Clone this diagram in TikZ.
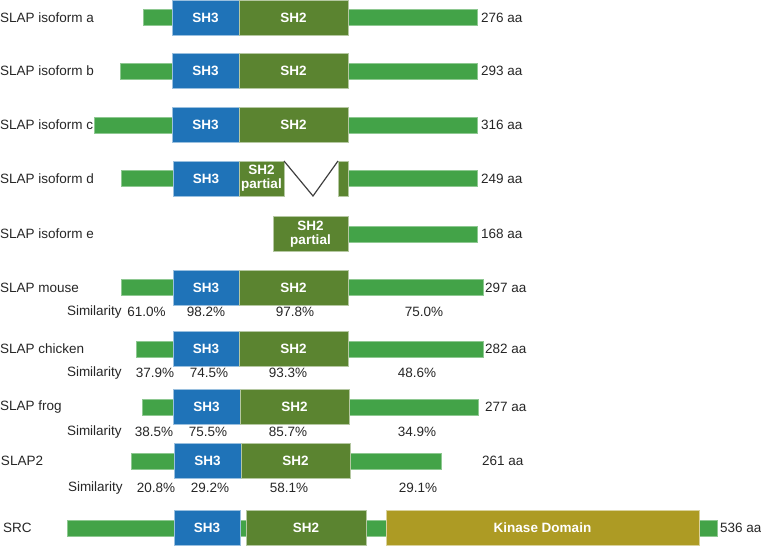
\documentclass[tikz,border=0pt]{standalone}
\usepackage{fontspec}
\setmainfont{Liberation Sans}
\definecolor{barg}{RGB}{67,163,72}
\definecolor{sh3c}{RGB}{31,115,184}
\definecolor{sh2c}{RGB}{91,132,48}
\definecolor{kinc}{RGB}{173,155,36}
\begin{document}
\begin{tikzpicture}[x=1pt,y=-1pt,
  every node/.style={inner sep=0pt, outer sep=0pt},
  lbl/.style={anchor=west, font=\fontsize{13.5}{15}\selectfont, text=black!85},
  num/.style={anchor=center, font=\fontsize{13.5}{15}\selectfont, text=black!85},
  bar/.style={rectangle, fill=barg, draw=barg!60!white, line width=0.5pt, minimum height=16pt},
  dom/.style={rectangle, line width=0.6pt, minimum height=35pt, text=white, font=\bfseries\fontsize{13.5}{15}\selectfont, align=center},
  shthree/.style={dom, fill=sh3c, draw=sh3c!45!white},
  shtwo/.style={dom, fill=sh2c, draw=sh2c!45!white},
  kin/.style={dom, fill=kinc, draw=kinc!45!white},
  vline/.style={draw=black!75, line width=1.2pt}
]
\useasboundingbox (0,0) rectangle (761,546);

% isoform a
\node[lbl] (la) at (0,17.5) {SLAP isoform a};
\node[bar, minimum width=334pt] (ba) at (310,17.5) {};
\node[shthree, minimum width=67pt] (a3) at (205.5,17.5) {SH3};
\node[shtwo, minimum width=109pt] (a2) at (293.5,17.5) {SH2};
\node[lbl] (aa) at (481,17.5) {276 aa};

% isoform b
\node[lbl] (lb) at (0,71) {SLAP isoform b};
\node[bar, minimum width=357pt] (bb) at (298.5,71) {};
\node[shthree, minimum width=67pt] (b3) at (205.5,71) {SH3};
\node[shtwo, minimum width=109pt] (b2) at (293.5,71) {SH2};
\node[lbl] (ab) at (481,71) {293 aa};

% isoform c
\node[lbl] (lc) at (0,125) {SLAP isoform c};
\node[bar, minimum width=383pt] (bc) at (285.5,125) {};
\node[shthree, minimum width=67pt] (c3) at (205.5,125) {SH3};
\node[shtwo, minimum width=109pt] (c2) at (293.5,125) {SH2};
\node[lbl] (ac) at (481,125) {316 aa};

% isoform d
\node[lbl] (ld) at (0,178.5) {SLAP isoform d};
\node[bar, minimum width=52pt] (bd1) at (147,178.5) {};
\node[bar, minimum width=129pt] (bd2) at (412.5,178.5) {};
\node[shthree, minimum width=66pt] (d3) at (206,178.5) {SH3};
\node[shtwo, minimum width=45pt] (d2) at (261.5,178.5) {SH2\\[-1pt]partial};
\node[shtwo, minimum width=10pt] (d4) at (343,178.5) {};
\coordinate (dv) at (313,196);
\draw[vline] (d2.north east) -- (dv) -- (d4.north west);
\node[lbl] (ad) at (481,178.5) {249 aa};

% isoform e
\node[lbl] (le) at (0,234) {SLAP isoform e};
\node[bar, minimum width=129pt] (be) at (412.5,234) {};
\node[shtwo, minimum width=75pt] (e2) at (310.5,234) {SH2\\[-1pt]partial};
\node[lbl] (ae) at (481,234) {168 aa};

% mouse
\node[lbl] (lm) at (0,287.5) {SLAP mouse};
\node[bar, minimum width=362pt] (bm) at (302,287.5) {};
\node[shthree, minimum width=66pt] (m3) at (206,287.5) {SH3};
\node[shtwo, minimum width=109pt] (m2) at (293.5,287.5) {SH2};
\node[lbl] (am) at (485,287.5) {297 aa};
\node[lbl] (sm) at (67,312) {Similarity};
\node[num] (sm1) at (146.5,312) {61.0\%};
\node[num] (sm2) at (206,312) {98.2\%};
\node[num] (sm3) at (295,312) {97.8\%};
\node[num] (sm4) at (424,312) {75.0\%};

% chicken
\node[lbl] (lk) at (0,349) {SLAP chicken};
\node[bar, minimum width=347pt] (bk) at (309.5,349) {};
\node[shthree, minimum width=66pt] (k3) at (206,349) {SH3};
\node[shtwo, minimum width=109pt] (k2) at (293.5,349) {SH2};
\node[lbl] (ak) at (485,349) {282 aa};
\node[lbl] (sk) at (67,373) {Similarity};
\node[num] (sk1) at (155,373) {37.9\%};
\node[num] (sk2) at (209,373) {74.5\%};
\node[num] (sk3) at (288,373) {93.3\%};
\node[num] (sk4) at (417,373) {48.6\%};

% frog
\node[lbl] (lf) at (0,407) {SLAP frog};
\node[bar, minimum width=336pt] (bf) at (310,407) {};
\node[shthree, minimum width=67pt] (f3) at (206.5,407) {SH3};
\node[shtwo, minimum width=109pt] (f2) at (294.5,407) {SH2};
\node[lbl] (af) at (485,407) {277 aa};
\node[lbl] (sf) at (67,432) {Similarity};
\node[num] (sf1) at (154,432) {38.5\%};
\node[num] (sf2) at (208,432) {75.5\%};
\node[num] (sf3) at (288,432) {85.7\%};
\node[num] (sf4) at (417,432) {34.9\%};

% SLAP2
\node[lbl] (l2) at (1,461) {SLAP2};
\node[bar, minimum width=310pt] (b2b) at (286,461) {};
\node[shthree, minimum width=67pt] (s3) at (207.5,461) {SH3};
\node[shtwo, minimum width=109pt] (s2) at (295.5,461) {SH2};
\node[lbl] (a2b) at (482,461) {261 aa};
\node[lbl] (ss) at (68,488) {Similarity};
\node[num] (ss1) at (156,488) {20.8\%};
\node[num] (ss2) at (210,488) {29.2\%};
\node[num] (ss3) at (289,488) {58.1\%};
\node[num] (ss4) at (418,488) {29.1\%};

% SRC
\node[lbl] (lr) at (3,528) {SRC};
\node[bar, minimum width=650pt] (br) at (392,528) {};
\node[shthree, minimum width=66pt] (r3) at (207,528) {SH3};
\node[shtwo, minimum width=120pt] (r2) at (306,528) {SH2};
\node[kin, minimum width=313pt] (rk) at (542.5,528) {Kinase Domain};
\node[lbl] (ar) at (720,528) {536 aa};
\end{tikzpicture}
\end{document}
